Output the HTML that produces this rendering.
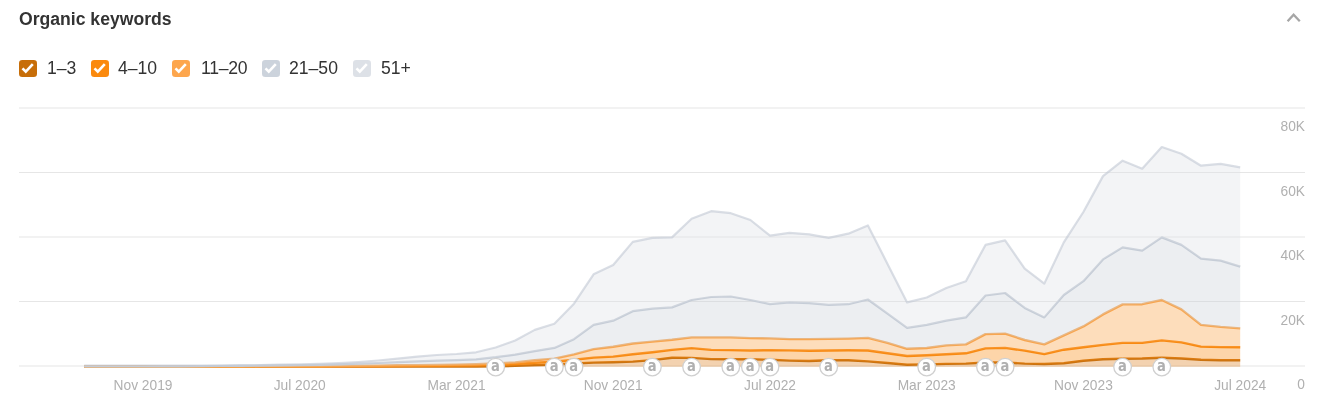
<!DOCTYPE html>
<html><head><meta charset="utf-8"><title>Organic keywords</title>
<style>
html,body{margin:0;padding:0;background:#fff;}
body{width:1325px;height:405px;overflow:hidden;position:relative;font-family:"Liberation Sans",sans-serif;color:#333;}
.title{position:absolute;left:19px;top:8.6px;font-size:17.6px;font-weight:bold;line-height:20px;color:#333;white-space:nowrap;}
.chev{position:absolute;left:1284px;top:9px;}
.legend{position:absolute;left:0;top:57.9px;height:20px;}
.cb{position:absolute;top:1.7px;width:17.6px;height:17.1px;border-radius:3.3px;}
.cb svg{position:absolute;left:0;top:-0.2px;}
.lb{position:absolute;top:0;font-size:17.6px;line-height:20px;color:#333;white-space:nowrap;}
svg.chart{position:absolute;left:0;top:0;}
.ax{font-family:"Liberation Sans",sans-serif;font-size:13.75px;fill:#b0b0b0;}
.mk{font-family:"DejaVu Sans Condensed","DejaVu Sans","Liberation Sans",sans-serif;font-size:14.6px;font-weight:bold;fill:#b0b0b0;}
</style></head><body>
<svg class="chart" width="1325" height="405" viewBox="0 0 1325 405">
<rect x="19" y="107.5" width="1286" height="1" fill="#e6e6e6"/><rect x="19" y="172.0" width="1286" height="1" fill="#e6e6e6"/><rect x="19" y="236.5" width="1286" height="1" fill="#e6e6e6"/><rect x="19" y="301.0" width="1286" height="1" fill="#e6e6e6"/><rect x="19" y="365.5" width="1286" height="1" fill="#e6e6e6"/>
<path d="M84.2,366.6 L103.8,366.6 L123.4,366.6 L143.0,366.6 L162.6,366.6 L182.2,366.6 L201.8,366.6 L221.4,366.6 L240.9,366.6 L260.5,366.6 L280.1,366.6 L299.7,366.6 L319.3,366.6 L338.9,366.6 L358.5,366.6 L378.1,366.6 L397.7,366.6 L417.3,366.6 L436.9,366.6 L456.5,366.6 L476.1,366.5 L495.7,366.3 L515.2,365.8 L534.8,365.1 L554.4,364.5 L574.0,363.5 L593.6,362.6 L613.2,362.2 L632.8,361.6 L652.4,360.1 L672.0,357.7 L691.6,357.9 L711.2,359.1 L730.8,359.3 L750.4,359.3 L770.0,359.8 L789.5,360.6 L809.1,361.0 L828.7,360.3 L848.3,360.3 L867.9,361.4 L887.5,363.0 L907.1,364.7 L926.7,364.4 L946.3,363.9 L965.9,363.6 L985.5,362.5 L1005.1,362.5 L1024.7,363.6 L1044.3,364.0 L1063.8,363.2 L1083.4,360.7 L1103.0,359.2 L1122.6,358.7 L1142.2,358.5 L1161.8,357.7 L1181.4,358.5 L1201.0,359.7 L1220.6,360.2 L1240.2,360.2 L1240.2,366.8 L1220.6,366.8 L1201.0,366.8 L1181.4,366.8 L1161.8,366.8 L1142.2,366.8 L1122.6,366.8 L1103.0,366.8 L1083.4,366.8 L1063.8,366.8 L1044.3,366.8 L1024.7,366.8 L1005.1,366.8 L985.5,366.8 L965.9,366.8 L946.3,366.8 L926.7,366.8 L907.1,366.8 L887.5,366.8 L867.9,366.8 L848.3,366.8 L828.7,366.8 L809.1,366.8 L789.5,366.8 L770.0,366.8 L750.4,366.8 L730.8,366.8 L711.2,366.8 L691.6,366.8 L672.0,366.8 L652.4,366.8 L632.8,366.8 L613.2,366.8 L593.6,366.8 L574.0,366.8 L554.4,366.8 L534.8,366.8 L515.2,366.8 L495.7,366.8 L476.1,366.8 L456.5,366.8 L436.9,366.8 L417.3,366.8 L397.7,366.8 L378.1,366.8 L358.5,366.8 L338.9,366.8 L319.3,366.8 L299.7,366.8 L280.1,366.8 L260.5,366.8 L240.9,366.8 L221.4,366.8 L201.8,366.8 L182.2,366.8 L162.6,366.8 L143.0,366.8 L123.4,366.8 L103.8,366.8 L84.2,366.8 Z" fill="#e08a2f" fill-opacity="0.38"/><path d="M84.2,366.6 L103.8,366.6 L123.4,366.6 L143.0,366.6 L162.6,366.6 L182.2,366.6 L201.8,366.6 L221.4,366.6 L240.9,366.6 L260.5,366.6 L280.1,366.6 L299.7,366.6 L319.3,366.6 L338.9,366.6 L358.5,366.6 L378.1,366.6 L397.7,366.6 L417.3,366.6 L436.9,366.6 L456.5,366.6 L476.1,366.5 L495.7,366.3 L515.2,365.8 L534.8,365.1 L554.4,364.5 L574.0,363.5 L593.6,362.6 L613.2,362.2 L632.8,361.6 L652.4,360.1 L672.0,357.7 L691.6,357.9 L711.2,359.1 L730.8,359.3 L750.4,359.3 L770.0,359.8 L789.5,360.6 L809.1,361.0 L828.7,360.3 L848.3,360.3 L867.9,361.4 L887.5,363.0 L907.1,364.7 L926.7,364.4 L946.3,363.9 L965.9,363.6 L985.5,362.5 L1005.1,362.5 L1024.7,363.6 L1044.3,364.0 L1063.8,363.2 L1083.4,360.7 L1103.0,359.2 L1122.6,358.7 L1142.2,358.5 L1161.8,357.7 L1181.4,358.5 L1201.0,359.7 L1220.6,360.2 L1240.2,360.2" fill="none" stroke="#cb7310" stroke-opacity="1" stroke-width="2.4" stroke-linejoin="round"/><path d="M84.2,366.6 L103.8,366.6 L123.4,366.6 L143.0,366.6 L162.6,366.6 L182.2,366.6 L201.8,366.6 L221.4,366.6 L240.9,366.6 L260.5,366.5 L280.1,366.5 L299.7,366.5 L319.3,366.5 L338.9,366.4 L358.5,366.3 L378.1,366.2 L397.7,366.1 L417.3,365.9 L436.9,365.8 L456.5,365.6 L476.1,365.3 L495.7,364.8 L515.2,364.0 L534.8,362.8 L554.4,361.7 L574.0,359.8 L593.6,357.6 L613.2,356.6 L632.8,354.2 L652.4,352.2 L672.0,349.9 L691.6,348.1 L711.2,349.9 L730.8,350.1 L750.4,350.5 L770.0,350.1 L789.5,350.4 L809.1,350.8 L828.7,350.5 L848.3,350.3 L867.9,350.5 L887.5,353.3 L907.1,356.0 L926.7,355.2 L946.3,354.2 L965.9,353.3 L985.5,348.4 L1005.1,347.9 L1024.7,350.6 L1044.3,354.1 L1063.8,349.7 L1083.4,347.3 L1103.0,344.9 L1122.6,342.9 L1142.2,342.9 L1161.8,340.4 L1181.4,342.4 L1201.0,346.6 L1220.6,347.1 L1240.2,347.3 L1240.2,360.2 L1220.6,360.2 L1201.0,359.7 L1181.4,358.5 L1161.8,357.7 L1142.2,358.5 L1122.6,358.7 L1103.0,359.2 L1083.4,360.7 L1063.8,363.2 L1044.3,364.0 L1024.7,363.6 L1005.1,362.5 L985.5,362.5 L965.9,363.6 L946.3,363.9 L926.7,364.4 L907.1,364.7 L887.5,363.0 L867.9,361.4 L848.3,360.3 L828.7,360.3 L809.1,361.0 L789.5,360.6 L770.0,359.8 L750.4,359.3 L730.8,359.3 L711.2,359.1 L691.6,357.9 L672.0,357.7 L652.4,360.1 L632.8,361.6 L613.2,362.2 L593.6,362.6 L574.0,363.5 L554.4,364.5 L534.8,365.1 L515.2,365.8 L495.7,366.3 L476.1,366.5 L456.5,366.6 L436.9,366.6 L417.3,366.6 L397.7,366.6 L378.1,366.6 L358.5,366.6 L338.9,366.6 L319.3,366.6 L299.7,366.6 L280.1,366.6 L260.5,366.6 L240.9,366.6 L221.4,366.6 L201.8,366.6 L182.2,366.6 L162.6,366.6 L143.0,366.6 L123.4,366.6 L103.8,366.6 L84.2,366.6 Z" fill="#fa8a10" fill-opacity="0.36"/><path d="M84.2,366.6 L103.8,366.6 L123.4,366.6 L143.0,366.6 L162.6,366.6 L182.2,366.6 L201.8,366.6 L221.4,366.6 L240.9,366.6 L260.5,366.5 L280.1,366.5 L299.7,366.5 L319.3,366.5 L338.9,366.4 L358.5,366.3 L378.1,366.2 L397.7,366.1 L417.3,365.9 L436.9,365.8 L456.5,365.6 L476.1,365.3 L495.7,364.8 L515.2,364.0 L534.8,362.8 L554.4,361.7 L574.0,359.8 L593.6,357.6 L613.2,356.6 L632.8,354.2 L652.4,352.2 L672.0,349.9 L691.6,348.1 L711.2,349.9 L730.8,350.1 L750.4,350.5 L770.0,350.1 L789.5,350.4 L809.1,350.8 L828.7,350.5 L848.3,350.3 L867.9,350.5 L887.5,353.3 L907.1,356.0 L926.7,355.2 L946.3,354.2 L965.9,353.3 L985.5,348.4 L1005.1,347.9 L1024.7,350.6 L1044.3,354.1 L1063.8,349.7 L1083.4,347.3 L1103.0,344.9 L1122.6,342.9 L1142.2,342.9 L1161.8,340.4 L1181.4,342.4 L1201.0,346.6 L1220.6,347.1 L1240.2,347.3" fill="none" stroke="#f88a12" stroke-opacity="1" stroke-width="2.4" stroke-linejoin="round"/><path d="M84.2,366.6 L103.8,366.6 L123.4,366.6 L143.0,366.6 L162.6,366.6 L182.2,366.5 L201.8,366.5 L221.4,366.5 L240.9,366.5 L260.5,366.4 L280.1,366.4 L299.7,366.3 L319.3,366.2 L338.9,366.0 L358.5,365.8 L378.1,365.6 L397.7,365.3 L417.3,365.1 L436.9,364.9 L456.5,364.6 L476.1,364.2 L495.7,363.5 L515.2,362.4 L534.8,360.3 L554.4,358.6 L574.0,354.3 L593.6,349.1 L613.2,346.8 L632.8,343.5 L652.4,341.6 L672.0,339.8 L691.6,337.4 L711.2,337.4 L730.8,337.4 L750.4,338.1 L770.0,338.4 L789.5,339.1 L809.1,339.1 L828.7,338.9 L848.3,338.6 L867.9,337.9 L887.5,342.9 L907.1,348.8 L926.7,348.0 L946.3,345.4 L965.9,344.4 L985.5,334.1 L1005.1,333.6 L1024.7,340.0 L1044.3,344.4 L1063.8,335.4 L1083.4,326.4 L1103.0,314.4 L1122.6,304.4 L1142.2,304.2 L1161.8,300.0 L1181.4,309.4 L1201.0,324.9 L1220.6,326.9 L1240.2,328.4 L1240.2,347.3 L1220.6,347.1 L1201.0,346.6 L1181.4,342.4 L1161.8,340.4 L1142.2,342.9 L1122.6,342.9 L1103.0,344.9 L1083.4,347.3 L1063.8,349.7 L1044.3,354.1 L1024.7,350.6 L1005.1,347.9 L985.5,348.4 L965.9,353.3 L946.3,354.2 L926.7,355.2 L907.1,356.0 L887.5,353.3 L867.9,350.5 L848.3,350.3 L828.7,350.5 L809.1,350.8 L789.5,350.4 L770.0,350.1 L750.4,350.5 L730.8,350.1 L711.2,349.9 L691.6,348.1 L672.0,349.9 L652.4,352.2 L632.8,354.2 L613.2,356.6 L593.6,357.6 L574.0,359.8 L554.4,361.7 L534.8,362.8 L515.2,364.0 L495.7,364.8 L476.1,365.3 L456.5,365.6 L436.9,365.8 L417.3,365.9 L397.7,366.1 L378.1,366.2 L358.5,366.3 L338.9,366.4 L319.3,366.5 L299.7,366.5 L280.1,366.5 L260.5,366.5 L240.9,366.6 L221.4,366.6 L201.8,366.6 L182.2,366.6 L162.6,366.6 L143.0,366.6 L123.4,366.6 L103.8,366.6 L84.2,366.6 Z" fill="#fba54c" fill-opacity="0.38"/><path d="M84.2,366.6 L103.8,366.6 L123.4,366.6 L143.0,366.6 L162.6,366.6 L182.2,366.5 L201.8,366.5 L221.4,366.5 L240.9,366.5 L260.5,366.4 L280.1,366.4 L299.7,366.3 L319.3,366.2 L338.9,366.0 L358.5,365.8 L378.1,365.6 L397.7,365.3 L417.3,365.1 L436.9,364.9 L456.5,364.6 L476.1,364.2 L495.7,363.5 L515.2,362.4 L534.8,360.3 L554.4,358.6 L574.0,354.3 L593.6,349.1 L613.2,346.8 L632.8,343.5 L652.4,341.6 L672.0,339.8 L691.6,337.4 L711.2,337.4 L730.8,337.4 L750.4,338.1 L770.0,338.4 L789.5,339.1 L809.1,339.1 L828.7,338.9 L848.3,338.6 L867.9,337.9 L887.5,342.9 L907.1,348.8 L926.7,348.0 L946.3,345.4 L965.9,344.4 L985.5,334.1 L1005.1,333.6 L1024.7,340.0 L1044.3,344.4 L1063.8,335.4 L1083.4,326.4 L1103.0,314.4 L1122.6,304.4 L1142.2,304.2 L1161.8,300.0 L1181.4,309.4 L1201.0,324.9 L1220.6,326.9 L1240.2,328.4" fill="none" stroke="#f8a650" stroke-opacity="1" stroke-width="2.4" stroke-linejoin="round"/><path d="M84.2,366.5 L103.8,366.5 L123.4,366.5 L143.0,366.5 L162.6,366.4 L182.2,366.3 L201.8,366.2 L221.4,366.0 L240.9,365.9 L260.5,365.7 L280.1,365.4 L299.7,365.1 L319.3,364.8 L338.9,364.3 L358.5,363.7 L378.1,363.0 L397.7,362.2 L417.3,361.4 L436.9,360.7 L456.5,360.2 L476.1,359.3 L495.7,357.2 L515.2,354.6 L534.8,351.1 L554.4,347.9 L574.0,339.2 L593.6,324.9 L613.2,320.7 L632.8,311.2 L652.4,308.7 L672.0,307.4 L691.6,300.0 L711.2,297.0 L730.8,296.5 L750.4,300.0 L770.0,304.2 L789.5,302.4 L809.1,303.2 L828.7,304.9 L848.3,304.2 L867.9,299.5 L887.5,313.7 L907.1,327.9 L926.7,324.9 L946.3,320.7 L965.9,317.4 L985.5,295.5 L1005.1,293.0 L1024.7,307.9 L1044.3,317.4 L1063.8,295.0 L1083.4,281.2 L1103.0,259.4 L1122.6,247.4 L1142.2,250.6 L1161.8,237.4 L1181.4,244.9 L1201.0,258.6 L1220.6,260.6 L1240.2,266.6 L1240.2,328.4 L1220.6,326.9 L1201.0,324.9 L1181.4,309.4 L1161.8,300.0 L1142.2,304.2 L1122.6,304.4 L1103.0,314.4 L1083.4,326.4 L1063.8,335.4 L1044.3,344.4 L1024.7,340.0 L1005.1,333.6 L985.5,334.1 L965.9,344.4 L946.3,345.4 L926.7,348.0 L907.1,348.8 L887.5,342.9 L867.9,337.9 L848.3,338.6 L828.7,338.9 L809.1,339.1 L789.5,339.1 L770.0,338.4 L750.4,338.1 L730.8,337.4 L711.2,337.4 L691.6,337.4 L672.0,339.8 L652.4,341.6 L632.8,343.5 L613.2,346.8 L593.6,349.1 L574.0,354.3 L554.4,358.6 L534.8,360.3 L515.2,362.4 L495.7,363.5 L476.1,364.2 L456.5,364.6 L436.9,364.9 L417.3,365.1 L397.7,365.3 L378.1,365.6 L358.5,365.8 L338.9,366.0 L319.3,366.2 L299.7,366.3 L280.1,366.4 L260.5,366.4 L240.9,366.5 L221.4,366.5 L201.8,366.5 L182.2,366.5 L162.6,366.6 L143.0,366.6 L123.4,366.6 L103.8,366.6 L84.2,366.6 Z" fill="#cdd2da" fill-opacity="0.38"/><path d="M84.2,366.5 L103.8,366.5 L123.4,366.5 L143.0,366.5 L162.6,366.4 L182.2,366.3 L201.8,366.2 L221.4,366.0 L240.9,365.9 L260.5,365.7 L280.1,365.4 L299.7,365.1 L319.3,364.8 L338.9,364.3 L358.5,363.7 L378.1,363.0 L397.7,362.2 L417.3,361.4 L436.9,360.7 L456.5,360.2 L476.1,359.3 L495.7,357.2 L515.2,354.6 L534.8,351.1 L554.4,347.9 L574.0,339.2 L593.6,324.9 L613.2,320.7 L632.8,311.2 L652.4,308.7 L672.0,307.4 L691.6,300.0 L711.2,297.0 L730.8,296.5 L750.4,300.0 L770.0,304.2 L789.5,302.4 L809.1,303.2 L828.7,304.9 L848.3,304.2 L867.9,299.5 L887.5,313.7 L907.1,327.9 L926.7,324.9 L946.3,320.7 L965.9,317.4 L985.5,295.5 L1005.1,293.0 L1024.7,307.9 L1044.3,317.4 L1063.8,295.0 L1083.4,281.2 L1103.0,259.4 L1122.6,247.4 L1142.2,250.6 L1161.8,237.4 L1181.4,244.9 L1201.0,258.6 L1220.6,260.6 L1240.2,266.6" fill="none" stroke="#c6cdd7" stroke-opacity="1" stroke-width="2.2" stroke-linejoin="round"/><path d="M84.2,365.7 L103.8,365.7 L123.4,365.7 L143.0,365.7 L162.6,365.6 L182.2,365.6 L201.8,365.5 L221.4,365.4 L240.9,365.2 L260.5,365.0 L280.1,364.7 L299.7,364.3 L319.3,363.8 L338.9,363.1 L358.5,362.0 L378.1,360.5 L397.7,358.6 L417.3,356.6 L436.9,355.0 L456.5,354.0 L476.1,352.3 L495.7,347.5 L515.2,340.5 L534.8,329.9 L554.4,323.7 L574.0,303.7 L593.6,274.3 L613.2,265.0 L632.8,241.9 L652.4,237.9 L672.0,237.4 L691.6,218.7 L711.2,211.2 L730.8,213.2 L750.4,220.0 L770.0,235.7 L789.5,232.9 L809.1,234.4 L828.7,237.9 L848.3,233.7 L867.9,225.4 L887.5,263.9 L907.1,302.4 L926.7,297.5 L946.3,288.0 L965.9,281.2 L985.5,244.9 L1005.1,240.4 L1024.7,268.6 L1044.3,283.6 L1063.8,242.4 L1083.4,212.0 L1103.0,176.1 L1122.6,160.7 L1142.2,168.7 L1161.8,147.0 L1181.4,153.7 L1201.0,165.7 L1220.6,163.9 L1240.2,167.4 L1240.2,266.6 L1220.6,260.6 L1201.0,258.6 L1181.4,244.9 L1161.8,237.4 L1142.2,250.6 L1122.6,247.4 L1103.0,259.4 L1083.4,281.2 L1063.8,295.0 L1044.3,317.4 L1024.7,307.9 L1005.1,293.0 L985.5,295.5 L965.9,317.4 L946.3,320.7 L926.7,324.9 L907.1,327.9 L887.5,313.7 L867.9,299.5 L848.3,304.2 L828.7,304.9 L809.1,303.2 L789.5,302.4 L770.0,304.2 L750.4,300.0 L730.8,296.5 L711.2,297.0 L691.6,300.0 L672.0,307.4 L652.4,308.7 L632.8,311.2 L613.2,320.7 L593.6,324.9 L574.0,339.2 L554.4,347.9 L534.8,351.1 L515.2,354.6 L495.7,357.2 L476.1,359.3 L456.5,360.2 L436.9,360.7 L417.3,361.4 L397.7,362.2 L378.1,363.0 L358.5,363.7 L338.9,364.3 L319.3,364.8 L299.7,365.1 L280.1,365.4 L260.5,365.7 L240.9,365.9 L221.4,366.0 L201.8,366.2 L182.2,366.3 L162.6,366.4 L143.0,366.5 L123.4,366.5 L103.8,366.5 L84.2,366.5 Z" fill="#dfe2e7" fill-opacity="0.38"/><path d="M84.2,365.7 L103.8,365.7 L123.4,365.7 L143.0,365.7 L162.6,365.6 L182.2,365.6 L201.8,365.5 L221.4,365.4 L240.9,365.2 L260.5,365.0 L280.1,364.7 L299.7,364.3 L319.3,363.8 L338.9,363.1 L358.5,362.0 L378.1,360.5 L397.7,358.6 L417.3,356.6 L436.9,355.0 L456.5,354.0 L476.1,352.3 L495.7,347.5 L515.2,340.5 L534.8,329.9 L554.4,323.7 L574.0,303.7 L593.6,274.3 L613.2,265.0 L632.8,241.9 L652.4,237.9 L672.0,237.4 L691.6,218.7 L711.2,211.2 L730.8,213.2 L750.4,220.0 L770.0,235.7 L789.5,232.9 L809.1,234.4 L828.7,237.9 L848.3,233.7 L867.9,225.4 L887.5,263.9 L907.1,302.4 L926.7,297.5 L946.3,288.0 L965.9,281.2 L985.5,244.9 L1005.1,240.4 L1024.7,268.6 L1044.3,283.6 L1063.8,242.4 L1083.4,212.0 L1103.0,176.1 L1122.6,160.7 L1142.2,168.7 L1161.8,147.0 L1181.4,153.7 L1201.0,165.7 L1220.6,163.9 L1240.2,167.4" fill="none" stroke="#c0c6d2" stroke-opacity="0.58" stroke-width="2.2" stroke-linejoin="round"/>
<g><circle cx="495.7" cy="367.1" r="8.8" fill="#fff" stroke="#d0d0d0" stroke-width="1.3"/><text transform="translate(495.4 371.3) scale(1 1.11)" x="0" y="0" text-anchor="middle" class="mk">a</text></g><g><circle cx="554.4" cy="367.1" r="8.8" fill="#fff" stroke="#d0d0d0" stroke-width="1.3"/><text transform="translate(554.1 371.3) scale(1 1.11)" x="0" y="0" text-anchor="middle" class="mk">a</text></g><g><circle cx="574.0" cy="367.1" r="8.8" fill="#fff" stroke="#d0d0d0" stroke-width="1.3"/><text transform="translate(573.7 371.3) scale(1 1.11)" x="0" y="0" text-anchor="middle" class="mk">a</text></g><g><circle cx="652.4" cy="367.1" r="8.8" fill="#fff" stroke="#d0d0d0" stroke-width="1.3"/><text transform="translate(652.1 371.3) scale(1 1.11)" x="0" y="0" text-anchor="middle" class="mk">a</text></g><g><circle cx="691.6" cy="367.1" r="8.8" fill="#fff" stroke="#d0d0d0" stroke-width="1.3"/><text transform="translate(691.3 371.3) scale(1 1.11)" x="0" y="0" text-anchor="middle" class="mk">a</text></g><g><circle cx="730.8" cy="367.1" r="8.8" fill="#fff" stroke="#d0d0d0" stroke-width="1.3"/><text transform="translate(730.5 371.3) scale(1 1.11)" x="0" y="0" text-anchor="middle" class="mk">a</text></g><g><circle cx="750.4" cy="367.1" r="8.8" fill="#fff" stroke="#d0d0d0" stroke-width="1.3"/><text transform="translate(750.1 371.3) scale(1 1.11)" x="0" y="0" text-anchor="middle" class="mk">a</text></g><g><circle cx="770.0" cy="367.1" r="8.8" fill="#fff" stroke="#d0d0d0" stroke-width="1.3"/><text transform="translate(769.7 371.3) scale(1 1.11)" x="0" y="0" text-anchor="middle" class="mk">a</text></g><g><circle cx="828.7" cy="367.1" r="8.8" fill="#fff" stroke="#d0d0d0" stroke-width="1.3"/><text transform="translate(828.4 371.3) scale(1 1.11)" x="0" y="0" text-anchor="middle" class="mk">a</text></g><g><circle cx="926.7" cy="367.1" r="8.8" fill="#fff" stroke="#d0d0d0" stroke-width="1.3"/><text transform="translate(926.4 371.3) scale(1 1.11)" x="0" y="0" text-anchor="middle" class="mk">a</text></g><g><circle cx="985.5" cy="367.1" r="8.8" fill="#fff" stroke="#d0d0d0" stroke-width="1.3"/><text transform="translate(985.2 371.3) scale(1 1.11)" x="0" y="0" text-anchor="middle" class="mk">a</text></g><g><circle cx="1005.1" cy="367.1" r="8.8" fill="#fff" stroke="#d0d0d0" stroke-width="1.3"/><text transform="translate(1004.8 371.3) scale(1 1.11)" x="0" y="0" text-anchor="middle" class="mk">a</text></g><g><circle cx="1122.6" cy="367.1" r="8.8" fill="#fff" stroke="#d0d0d0" stroke-width="1.3"/><text transform="translate(1122.3 371.3) scale(1 1.11)" x="0" y="0" text-anchor="middle" class="mk">a</text></g><g><circle cx="1161.8" cy="367.1" r="8.8" fill="#fff" stroke="#d0d0d0" stroke-width="1.3"/><text transform="translate(1161.5 371.3) scale(1 1.11)" x="0" y="0" text-anchor="middle" class="mk">a</text></g>
<text x="1305" y="131.3" text-anchor="end" class="ax">80K</text><text x="1305" y="196.3" text-anchor="end" class="ax">60K</text><text x="1305" y="260.3" text-anchor="end" class="ax">40K</text><text x="1305" y="325.3" text-anchor="end" class="ax">20K</text><text x="1305" y="389.3" text-anchor="end" class="ax">0</text><text x="143.0" y="390.4" text-anchor="middle" class="ax">Nov 2019</text><text x="299.7" y="390.4" text-anchor="middle" class="ax">Jul 2020</text><text x="456.5" y="390.4" text-anchor="middle" class="ax">Mar 2021</text><text x="613.2" y="390.4" text-anchor="middle" class="ax">Nov 2021</text><text x="770.0" y="390.4" text-anchor="middle" class="ax">Jul 2022</text><text x="926.7" y="390.4" text-anchor="middle" class="ax">Mar 2023</text><text x="1083.4" y="390.4" text-anchor="middle" class="ax">Nov 2023</text><text x="1266.2" y="390.4" text-anchor="end" class="ax">Jul 2024</text>
</svg>
<div class="title">Organic keywords</div>
<svg class="chev" width="20" height="16" viewBox="0 0 20 16"><path d="M3.6 12.3 L9.6 5.8 L15.8 12.3" fill="none" stroke="#a6a6a6" stroke-width="2.3"/></svg>
<div class="legend">
<span class="cb" style="left:19.1px;background:#c76e09"><svg width="17.6" height="17.6" viewBox="0 0 17.6 17.6"><path d="M3.5 9.3 L6.8 12.7 L13.8 5.2" fill="none" stroke="#fff" stroke-width="2.6"/></svg></span><span class="lb" style="left:47px">1–3</span>
<span class="cb" style="left:91px;background:#fb8a0e"><svg width="17.6" height="17.6" viewBox="0 0 17.6 17.6"><path d="M3.5 9.3 L6.8 12.7 L13.8 5.2" fill="none" stroke="#fff" stroke-width="2.6"/></svg></span><span class="lb" style="left:118px">4–10</span>
<span class="cb" style="left:172px;background:#fda64d"><svg width="17.6" height="17.6" viewBox="0 0 17.6 17.6"><path d="M3.5 9.3 L6.8 12.7 L13.8 5.2" fill="none" stroke="#fff" stroke-width="2.6"/></svg></span><span class="lb" style="left:201px;letter-spacing:-0.3px">11–20</span>
<span class="cb" style="left:262px;background:#ccd3dc"><svg width="17.6" height="17.6" viewBox="0 0 17.6 17.6"><path d="M3.5 9.3 L6.8 12.7 L13.8 5.2" fill="none" stroke="#fff" stroke-width="2.6"/></svg></span><span class="lb" style="left:289px">21–50</span>
<span class="cb" style="left:353px;background:#dde1e7"><svg width="17.6" height="17.6" viewBox="0 0 17.6 17.6"><path d="M3.5 9.3 L6.8 12.7 L13.8 5.2" fill="none" stroke="#fff" stroke-width="2.6"/></svg></span><span class="lb" style="left:381px">51+</span>
</div>
</body></html>
